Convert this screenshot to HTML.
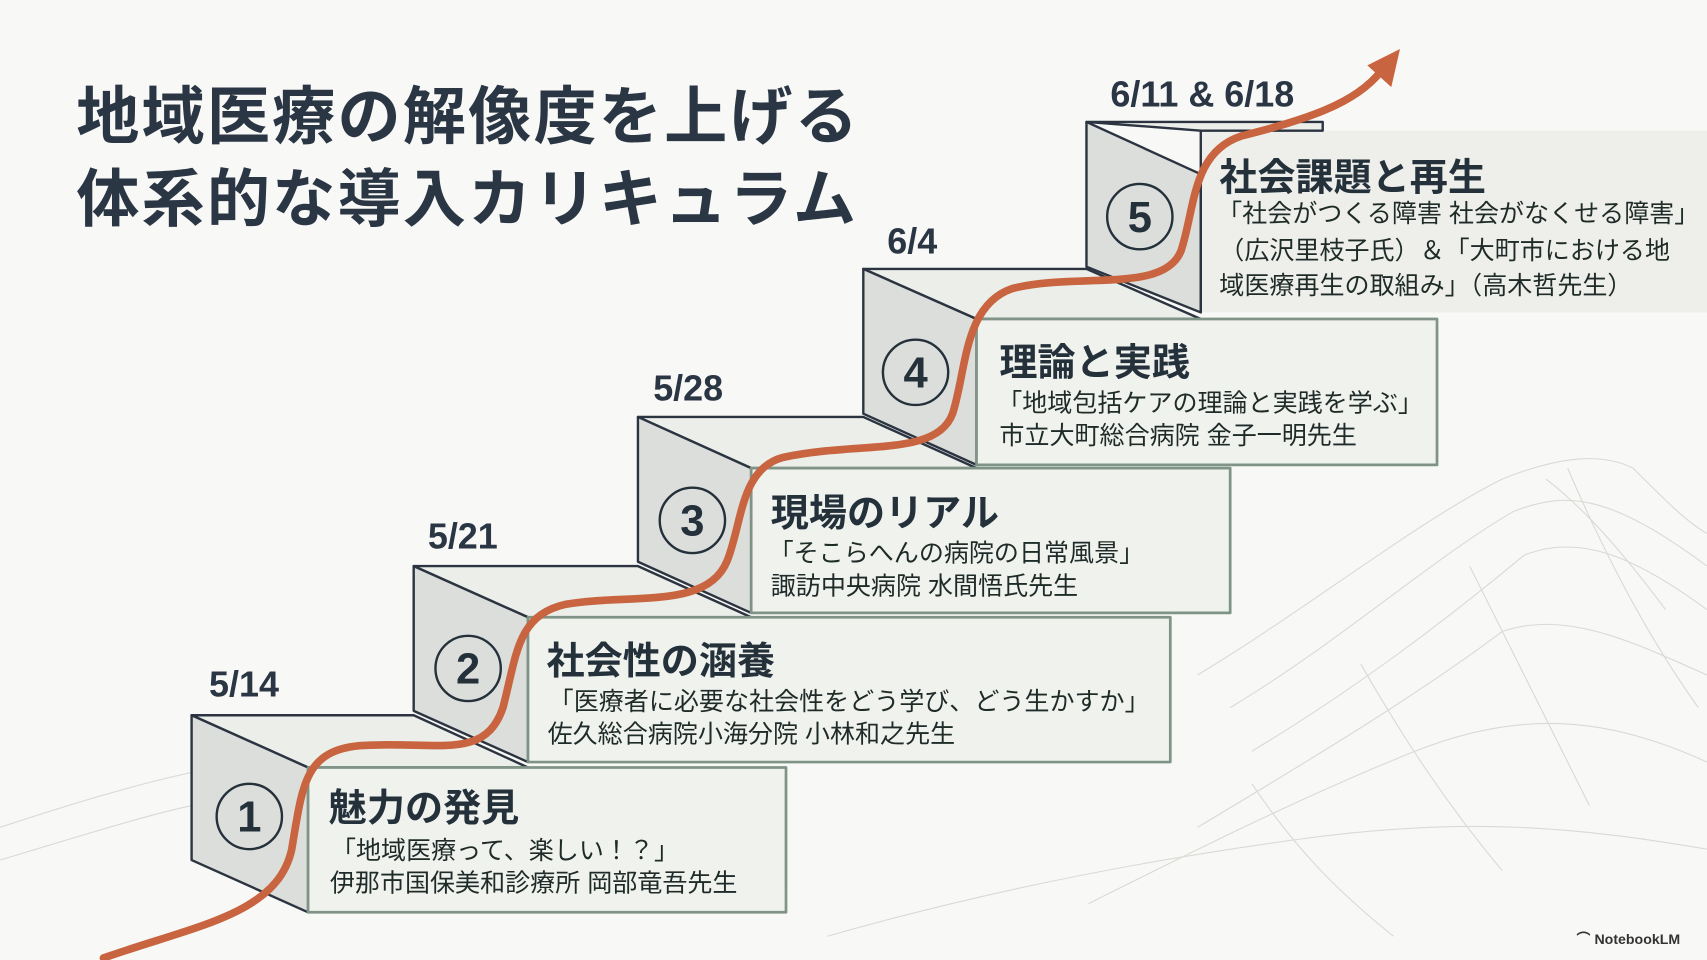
<!DOCTYPE html>
<html><head><meta charset="utf-8"><style>
html,body{margin:0;padding:0;background:#f8f8f6;overflow:hidden}
#wrap{position:absolute;left:0;top:0;width:1568px;height:882px;transform:scale(1.08865);transform-origin:0 0;font-family:"Liberation Sans","Noto Sans CJK JP",sans-serif;color:#24302f}
.t{position:absolute;white-space:nowrap}
.title{font-size:58px;font-weight:bold;color:#2a3644;letter-spacing:2px}
.date{font-size:33px;font-weight:bold;color:#2a3644}
.h{font-size:35px;font-weight:bold;color:#24303a}
.s{font-size:23px;color:#1f2b28}
</style></head><body><div id="wrap">
<svg width="1568" height="882" style="position:absolute;left:0;top:0">
<g fill="none" stroke="#d8dad5" stroke-width="1">
<path d="M0,760 C120,720 200,700 300,690"/>
<path d="M0,790 C100,760 160,740 230,730"/>
<path d="M1100,620 C1200,560 1300,480 1380,440 C1430,420 1470,415 1500,430 C1530,460 1550,480 1568,490"/>
<path d="M1130,650 C1230,590 1320,510 1390,470 C1440,450 1480,455 1568,520"/>
<path d="M1150,690 C1250,630 1340,560 1400,510 C1450,490 1500,510 1568,560"/>
<path d="M1100,760 C1200,700 1300,640 1380,580 C1440,560 1500,590 1568,620"/>
<path d="M1000,830 C1100,780 1200,730 1300,690 C1400,650 1480,660 1568,700"/>
<path d="M760,860 C900,820 1050,790 1200,770 C1350,750 1450,760 1568,780"/>
<path d="M1420,440 C1460,470 1500,520 1530,560"/>
<path d="M1440,430 C1470,500 1510,580 1560,650"/>
<path d="M1350,520 C1380,580 1420,660 1460,740"/>
<path d="M1250,610 C1290,680 1330,740 1380,800"/>
<path d="M1150,720 C1190,780 1230,820 1280,860"/>
</g>
<g stroke="#2b3440" stroke-width="2.2" stroke-linejoin="round">
<rect x="1103" y="120" width="470" height="167" fill="#eeefeb" stroke="none"/>
<polygon points="998,112 1215,112 1215,120 1103,120" fill="#eceeea"/>
<polygon points="998,112 1103,160 1103,287 998,245" fill="#dcdedb"/>
<line x1="1103" y1="120" x2="1103" y2="287"/>
<polygon points="793,247 998,247 1103,293 897,293" fill="#eceeea"/>
<polygon points="793,247 897,293 897,427 793,380" fill="#dcdedb"/>
<rect x="897" y="293" width="423" height="134" fill="#f0f2ee" stroke="#7f9486" stroke-width="2.5"/>
<polygon points="586,383 793,383 897,430 690,430" fill="#eceeea"/>
<polygon points="586,383 690,430 690,563 586,516" fill="#dcdedb"/>
<rect x="690" y="430" width="440" height="133" fill="#f0f2ee" stroke="#7f9486" stroke-width="2.5"/>
<polygon points="380,520 586,520 690,567 485,567" fill="#eceeea"/>
<polygon points="380,520 485,567 485,700 380,653" fill="#dcdedb"/>
<rect x="485" y="567" width="590" height="133" fill="#f0f2ee" stroke="#7f9486" stroke-width="2.5"/>
<polygon points="176,657 380,657 485,705 283,705" fill="#eceeea"/>
<polygon points="176,657 283,705 283,838 176,790" fill="#dcdedb"/>
<rect x="283" y="705" width="439" height="133" fill="#f0f2ee" stroke="#7f9486" stroke-width="2.5"/>
</g>
<g fill="none" stroke="#24303a" stroke-width="2.2">
<circle cx="229" cy="750" r="30"/><circle cx="430" cy="614" r="30"/><circle cx="636" cy="478" r="30"/><circle cx="841" cy="342" r="30"/><circle cx="1047" cy="199" r="30"/>
</g>
<g font-family="Liberation Sans,sans-serif" font-weight="bold" font-size="40" fill="#24303a" text-anchor="middle">
<text x="229" y="764">1</text><text x="430" y="628">2</text><text x="636" y="492">3</text><text x="841" y="356">4</text><text x="1047" y="213">5</text>
</g>
<path d="M95,880 C180,850 255,840 268,780 C278,720 280,690 330,685 C400,680 445,700 462,650 C475,600 475,565 520,555 C580,545 650,560 668,515 C682,480 680,430 720,420 C790,405 860,420 875,380 C888,340 885,280 930,265 C990,250 1070,270 1085,230 C1098,190 1095,140 1140,125 C1200,110 1245,95 1268,66" fill="none" stroke="#c8643f" stroke-width="7" stroke-linecap="round"/>
<polygon points="1286,45 1256,60 1278,80" fill="#c8643f"/>
</svg>
<div class="t title" style="left:70px;top:60px">地域医療の解像度を上げる</div>
<div class="t title" style="left:70px;top:136px">体系的な導入カリキュラム</div>
<div class="t date" style="left:192px;top:610px">5/14</div>
<div class="t date" style="left:393px;top:474px">5/21</div>
<div class="t date" style="left:600px;top:338px">5/28</div>
<div class="t date" style="left:815px;top:203px">6/4</div>
<div class="t date" style="left:1020px;top:68px">6/11 &amp; 6/18</div>

<div class="t h" style="left:302px;top:714px">魅力の発見</div>
<div class="t s" style="left:304px;top:762px">「地域医療って、楽しい！？」</div>
<div class="t s" style="left:303px;top:792px">伊那市国保美和診療所 岡部竜吾先生</div>

<div class="t h" style="left:502px;top:579px">社会性の涵養</div>
<div class="t s" style="left:504px;top:625px">「医療者に必要な社会性をどう学び、どう生かすか」</div>
<div class="t s" style="left:503px;top:655px">佐久総合病院小海分院 小林和之先生</div>

<div class="t h" style="left:708px;top:443px">現場のリアル</div>
<div class="t s" style="left:706px;top:489px">「そこらへんの病院の日常風景」</div>
<div class="t s" style="left:708px;top:519px">諏訪中央病院 水間悟氏先生</div>

<div class="t h" style="left:918px;top:305px">理論と実践</div>
<div class="t s" style="left:916px;top:351px">「地域包括ケアの理論と実践を学ぶ」</div>
<div class="t s" style="left:918px;top:381px">市立大町総合病院 金子一明先生</div>

<div class="t h" style="left:1120px;top:135px">社会課題と再生</div>
<div class="t s" style="left:1118px;top:177px">「社会がつくる障害 社会がなくせる障害」</div>
<div class="t s" style="left:1120px;top:211px">（広沢里枝子氏）＆「大町市における地</div>
<div class="t s" style="left:1120px;top:243px">域医療再生の取組み」（高木哲先生）</div>

<div class="t" style="left:1448px;top:852px;font-size:13px;font-weight:bold;color:#333">⌒ NotebookLM</div>
</div></body></html>
